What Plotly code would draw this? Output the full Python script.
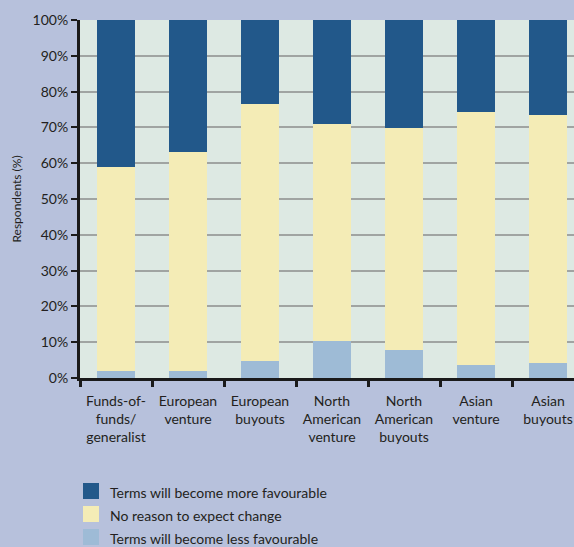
import plotly.graph_objects as go

categories = ["Funds-of-<br>funds/<br>generalist", "European<br>venture", "European<br>buyouts",
              "North<br>American<br>venture", "North<br>American<br>buyouts", "Asian<br>venture", "Asian<br>buyouts"]
less_favourable = [2.0, 2.0, 4.7, 10.3, 7.8, 3.6, 4.2]
no_change = [57.0, 61.1, 71.8, 60.6, 62.1, 70.7, 69.3]
more_favourable = [41.0, 36.9, 23.5, 29.1, 30.1, 25.7, 26.5]

series = [
    ("Terms will become less favourable", less_favourable, "#9ebbd6"),
    ("No reason to expect change", no_change, "#f4ecb6"),
    ("Terms will become more favourable", more_favourable, "#22588a"),
]

FONT = "Lato"
TXT = "#231f20"

fig = go.Figure()
for name, vals, col in series:
    fig.add_trace(go.Bar(x=categories, y=vals, name=name, showlegend=False,
                         marker=dict(color=col, line=dict(width=0))))

# manual legend (swatches + labels) placed below the plot in paper coordinates
PLOT_TOP, PLOT_BOTTOM, PLOT_LEFT, PLOT_W = 20, 378, 80, 494
def py(ypx):
    return (PLOT_BOTTOM - ypx) / (PLOT_BOTTOM - PLOT_TOP)
def px(xpx):
    return (xpx - PLOT_LEFT) / PLOT_W

shapes, annotations = [], []
for i, (name, vals, col) in enumerate(reversed(series)):
    yc = 491 + 23 * i
    shapes.append(dict(type="rect", xref="paper", yref="paper",
                       x0=px(83), x1=px(99), y0=py(yc + 8), y1=py(yc - 8),
                       fillcolor=col, line=dict(width=0), layer="above"))
    annotations.append(dict(text=name, xref="paper", yref="paper", x=px(108), y=py(yc + 1),
                            xanchor="left", yanchor="middle", showarrow=False,
                            font=dict(size=14, color=TXT, family=FONT)))

fig.update_layout(
    width=574, height=547,
    barmode="stack", bargap=0.46,
    paper_bgcolor="#b7c1dc", plot_bgcolor="#dde9e3",
    margin=dict(l=80, r=0, t=20, b=169),
    font=dict(family=FONT, size=14, color=TXT),
    showlegend=False,
    shapes=shapes, annotations=annotations,
)
fig.update_xaxes(
    range=[-0.5, 6.361], type="category",
    showline=True, linecolor="#1a1a1a", linewidth=3,
    ticks="outside", tickson="boundaries", ticklen=6, tickwidth=3, tickcolor="#1a1a1a",
    showgrid=False, tickfont=dict(size=14, color=TXT), tickangle=0, ticklabelstandoff=8,
)
fig.update_yaxes(
    range=[0, 100], dtick=10, ticksuffix="%",
    showline=True, linecolor="#1a1a1a", linewidth=3,
    ticks="outside", ticklen=6, tickwidth=2, tickcolor="#1a1a1a",
    showgrid=True, gridcolor="#a0a4a2", gridwidth=1.5, zeroline=False,
    tickfont=dict(size=14, color=TXT),
    title=dict(text="Respondents (%)", font=dict(size=12, color=TXT), standoff=9),
)

fig.write_html("out.html", config={"displayModeBar": False},
               post_script="document.body.style.margin='0';document.body.style.overflow='hidden';")
